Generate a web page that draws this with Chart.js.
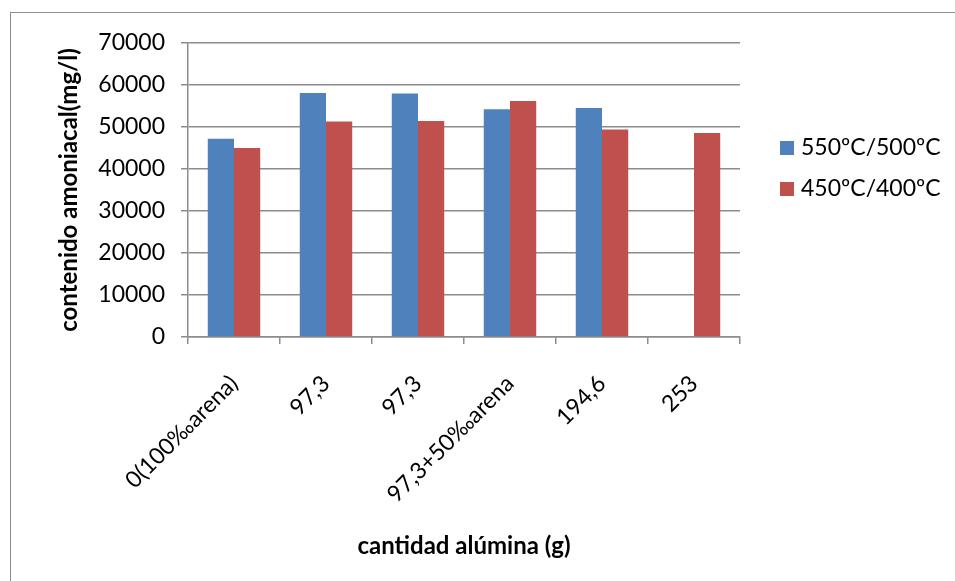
<!DOCTYPE html>
<html>
<head>
<meta charset="utf-8">
<script src="https://cdn.jsdelivr.net/npm/chart.js@4/dist/chart.umd.min.js"></script>
<style>
  html, body { margin: 0; padding: 0; background: #fff; overflow: hidden; }
  #marco { position: absolute; left: 0; top: 0; width: 955px; height: 581px; }
  #borde { position: absolute; left: 10px; top: 12px; width: 960px; height: 600px; border: 1px solid #8c8c8c; box-sizing: border-box; pointer-events: none; }
</style>
</head>
<body>
<div id="marco"><canvas id="grafico" width="955" height="581"></canvas></div>
<div id="borde"></div>
<script>
  // datos
  let categorias = ["0(100‰arena)", "97,3", "97,3", "97,3+50‰arena", "194,6", "253"]
  let serie550 = [47200, 58100, 58000, 54200, 54500, null]
  let serie450 = [45000, 51300, 51400, 56200, 49400, 48600]
  let nombres = ["550ºC/500ºC", "450ºC/400ºC"]
  let colores = ["#4F81BD", "#C0504D"]

  let fuente = "Lato, 'Noto Sans', sans-serif"
  let gris = "#8c8c8c"

  // leyenda dibujada a mano a la derecha (como en excel)
  const leyenda = {
    id: "leyenda",
    afterDraw(chart) {
      const ctx = chart.ctx
      ctx.save()
      ctx.font = "23px " + fuente
      ctx.textBaseline = "middle"
      ctx.textAlign = "left"
      chart.data.datasets.forEach(function(ds, i) {
        let y = 148 + i * 41
        ctx.fillStyle = ds.backgroundColor
        ctx.fillRect(780, y - 7, 14, 14)
        ctx.fillStyle = "#000"
        ctx.fillText(ds.label, 801, y)
      })
      ctx.restore()
    }
  }

  var ctx = document.getElementById("grafico").getContext("2d")
  var barras = new Chart(ctx, {
    type: "bar",
    data: {
      labels: categorias,
      datasets: [
        { label: nombres[0], data: serie550, backgroundColor: colores[0] },
        { label: nombres[1], data: serie450, backgroundColor: colores[1] }
      ]
    },
    options: {
      responsive: false,
      animation: false,
      layout: { padding: { left: 40, right: 215, top: 43, bottom: 20 } },
      categoryPercentage: 0.57,
      barPercentage: 1.0,
      plugins: { legend: { display: false }, tooltip: { enabled: false } },
      scales: {
        x: {
          afterFit: function(s) { s.height = 581 - 20 - 337 },
          grid: { offset: true, drawOnChartArea: false, drawTicks: true, tickLength: 7, color: gris, lineWidth: 1.5 },
          border: { color: gris, width: 1.5 },
          ticks: { color: "#000", font: { family: fuente, size: 23 }, maxRotation: 45, minRotation: 45, padding: 26 },
          title: { display: true, text: "cantidad alúmina (g)", color: "#000", font: { family: fuente, size: 24, weight: "bold" }, padding: { top: 0, bottom: 0 } }
        },
        y: {
          min: 0,
          max: 70000,
          afterFit: function(s) { s.width = 188 - 40 },
          ticks: { stepSize: 10000, color: "#000", font: { family: fuente, size: 23 }, padding: 16,
            callback: function(v) { return String(v) } },
          grid: { color: gris, lineWidth: 1.5, tickLength: 7 },
          border: { color: gris, width: 1.5 },
          title: { display: true, text: "contenido amoniacal(mg/l)", color: "#000", font: { family: fuente, size: 24, weight: "bold" }, padding: { top: 15, bottom: 0 } }
        }
      }
    },
    plugins: [leyenda]
  })
</script>
</body>
</html>
